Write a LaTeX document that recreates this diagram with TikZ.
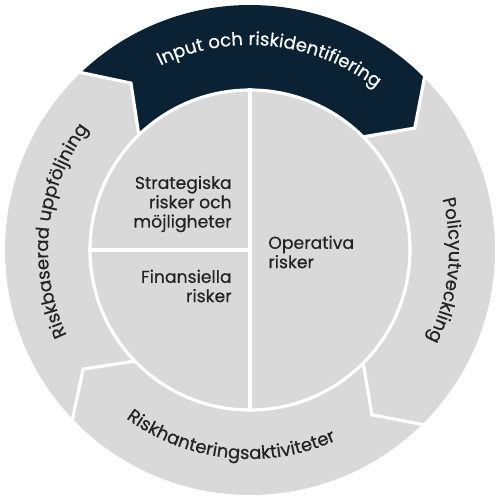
\documentclass[tikz,border=0pt]{standalone}
\usepackage{fontspec}
\setmainfont{Poppins}[FakeBold=0.35]
\newfontfamily\ringfont{Poppins}[FakeBold=0.35, LetterSpace=2]
\usetikzlibrary{decorations.text}
\usepackage{xcolor}
\definecolor{rkdark}{HTML}{0A2233}
\definecolor{rkgray}{HTML}{D9D9D9}
\definecolor{rktext}{HTML}{222222}

\begin{document}
\begin{tikzpicture}[
    gapline/.style={draw=white, line width=1.8pt, line join=miter},
    core/.style={circle, fill=rkgray, draw=white, line width=1.8pt,
                 minimum size=6.4cm, inner sep=0pt},
    riskbox/.style={inner sep=0pt, text=rktext,
                    font=\fontsize{9.8pt}{11pt}\selectfont},
    ringlabel/.style={decorate, decoration={text along path, text align=center,
                      text color=#1}}
  ]
    \useasboundingbox (-5,-5) rectangle (5,5);

    % ring segments
    \fill[rkdark] (134:4.9) arc[start angle=134, end angle=45, radius=4.9] -- (36.5:4.1) -- (45:3.2)
        arc[start angle=45, end angle=134, radius=3.2] -- (125.5:4.1) -- cycle;
    \fill[rkgray] (45:4.9) arc[start angle=45, end angle=-45, radius=4.9] -- (-53.5:4.1) -- (-45:3.2)
        arc[start angle=-45, end angle=45, radius=3.2] -- (36.5:4.1) -- cycle;
    \fill[rkgray] (-45:4.9) arc[start angle=-45, end angle=-136, radius=4.9] -- (-144.5:4.1) -- (-136:3.2)
        arc[start angle=-136, end angle=-45, radius=3.2] -- (-53.5:4.1) -- cycle;
    \fill[rkgray] (224:4.9) arc[start angle=224, end angle=134, radius=4.9] -- (125.5:4.1) -- (134:3.2)
        arc[start angle=134, end angle=224, radius=3.2] -- (215.5:4.1) -- cycle;

    \draw[gapline] (134:4.95) -- (125.5:4.1) -- (134:3.2);
    \draw[gapline] (45:4.95) -- (36.5:4.1) -- (45:3.2);
    \draw[gapline] (-45:4.95) -- (-53.5:4.1) -- (-45:3.2);
    \draw[gapline] (-136:4.95) -- (-144.5:4.1) -- (-136:3.2);

    % ring labels
    \path[ringlabel=white, decoration={text={|\ringfont\fontsize{10.3pt}{11pt}\selectfont|Input och riskidentifiering}}]
        (134:4.1) arc[start angle=134, end angle=34, radius=4.1];
    \path[ringlabel=rktext, decoration={text={|\ringfont\fontsize{10.3pt}{11pt}\selectfont|Policyutveckling}}]
        (44:3.98) arc[start angle=44, end angle=-56, radius=3.98];
    \path[ringlabel=rktext, decoration={text={|\ringfont\fontsize{10.3pt}{11pt}\selectfont|Riskhanteringsaktiviteter}}]
        (-146:4.18) arc[start angle=-146, end angle=-46, radius=4.18];
    \path[ringlabel=rktext, decoration={text={|\ringfont\fontsize{10.3pt}{11pt}\selectfont|Riskbaserad uppföljning}}]
        (224:4.04) arc[start angle=224, end angle=124, radius=4.04];

    % core circle
    \node[core] (core) at (0,0) {};
    \draw[gapline] (core.north) -- (core.south);
    \draw[gapline] (core.west) -- (core.center);

    \node[riskbox, align=right, anchor=east] (strat) at (-0.36,0.92) {Strategiska\\risker och\\möjligheter};
    \node[riskbox, align=right, anchor=east] (fin) at (-0.36,-0.72) {Finansiella\\risker};
    \node[riskbox, align=left, anchor=west] (oper) at (0.36,-0.04) {Operativa\\risker};
  \end{tikzpicture}
\end{document}
